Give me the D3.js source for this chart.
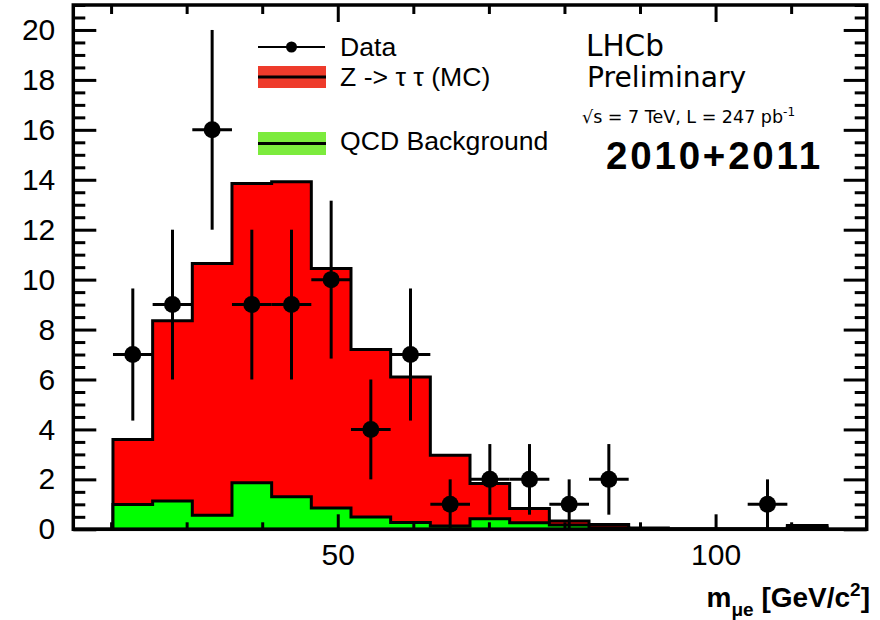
<!DOCTYPE html>
<html><head><meta charset="utf-8">
<script src="https://cdn.jsdelivr.net/npm/d3@7"></script>
<style>body{margin:0;background:#fff} svg{display:block}</style>
</head><body><svg id="c" width="880" height="620"></svg>
<script>
// ---- data ----
const binEdges = [15, 20.25, 25.5, 30.75, 36, 41.25, 46.5, 51.75, 57, 62.25, 67.5, 72.75, 78, 83.25, 88.5, 93.75, 99, 104.25, 109.5, 114.75, 120];
const dataCounts = [0, 7, 9, 16, 9, 9, 10, 4, 7, 1, 2, 2, 1, 2, 0, 0, 0, 1, 0, 0];
const qcdBkg = [0, 0.99, 1.13, 0.56, 1.86, 1.30, 0.85, 0.49, 0.27, 0.13, 0.42, 0.26, 0.17, 0.06, 0.02, 0.01, 0.01, 0.01, 0.08, 0];
const zttMC  = [0, 2.61, 7.22, 10.09, 11.99, 12.62, 9.60, 6.71, 5.83, 2.84, 1.41, 0.57, 0.16, 0.13, 0.03, 0.01, 0.01, 0.01, 0.07, 0];
const xMajorTicks = [50, 100];
const xMinorTicks = [20, 30, 40, 60, 70, 80, 90, 110];
const yMajorTicks = [0, 2, 4, 6, 8, 10, 12, 14, 16, 18, 20];
const yMinorTicks = [0.5,1,1.5,2.5,3,3.5,4.5,5,5.5,6.5,7,7.5,8.5,9,9.5,10.5,11,11.5,12.5,13,13.5,14.5,15,15.5,16.5,17,17.5,18.5,19,19.5,20.5,21];
const legendLabels = ["Data", "Z -> τ τ (MC)", "QCD Background"];

// ---- layout ----
const svg = d3.select("#c");
const L = 73.3, R = 866.7, T = 5, B = 529.3;
const x = d3.scaleLinear().domain([15, 120]).range([L, R]);
const y = d3.scaleLinear().domain([0, 21]).range([B, T]);
const sansFont = "'Liberation Sans', Arial, sans-serif";
const dejaFont = "'DejaVu Sans', sans-serif";

function stepPoints(vals) {
  const pts = [[binEdges[0], 0]];
  vals.forEach((v, i) => { pts.push([binEdges[i], v]); pts.push([binEdges[i + 1], v]); });
  pts.push([binEdges[binEdges.length - 1], 0]);
  return pts;
}
const line = d3.line().x(d => x(d[0])).y(d => y(d[1]));

const total = zttMC.map((v, i) => v + qcdBkg[i]);
svg.append("path").attr("d", line(stepPoints(total)) + "Z")
  .attr("fill", "#ff0000").attr("stroke", "#000").attr("stroke-width", 3).attr("stroke-linejoin", "miter");
svg.append("path").attr("d", line(stepPoints(qcdBkg)) + "Z")
  .attr("fill", "#00ff00").attr("stroke", "#000").attr("stroke-width", 3).attr("stroke-linejoin", "miter");

// ---- axes ----
function styleAxis(g) {
  g.select(".domain").remove();
  g.selectAll(".tick line").attr("stroke", "#000").attr("stroke-width", 3);
}
svg.append("g").attr("transform", `translate(${L},0)`)
  .call(d3.axisLeft(y).tickValues(yMajorTicks).tickSize(-23).tickPadding(18).tickFormat(d3.format("d")))
  .call(styleAxis)
  .call(g => g.selectAll("text").attr("font-family", sansFont).attr("font-size", 30).attr("fill", "#000"));
svg.append("g").attr("transform", `translate(${L},0)`)
  .call(d3.axisLeft(y).tickValues(yMinorTicks).tickSize(-12).tickFormat(""))
  .call(styleAxis);
svg.append("g").attr("transform", `translate(${R},0)`)
  .call(d3.axisRight(y).tickValues(yMajorTicks).tickSize(-23).tickFormat(""))
  .call(styleAxis);
svg.append("g").attr("transform", `translate(${R},0)`)
  .call(d3.axisRight(y).tickValues(yMinorTicks).tickSize(-12).tickFormat(""))
  .call(styleAxis);
svg.append("g").attr("transform", `translate(0,${B})`)
  .call(d3.axisBottom(x).tickValues(xMajorTicks).tickSize(-15).tickPadding(14).tickFormat(d3.format("d")))
  .call(styleAxis)
  .call(g => g.selectAll("text").attr("font-family", sansFont).attr("font-size", 30).attr("fill", "#000"));
svg.append("g").attr("transform", `translate(0,${B})`)
  .call(d3.axisBottom(x).tickValues(xMinorTicks).tickSize(-7).tickFormat(""))
  .call(styleAxis);
svg.append("g").attr("transform", `translate(0,${T})`)
  .call(d3.axisTop(x).tickValues(xMajorTicks).tickSize(-17).tickFormat(""))
  .call(styleAxis);
svg.append("g").attr("transform", `translate(0,${T})`)
  .call(d3.axisTop(x).tickValues(xMinorTicks).tickSize(-9).tickFormat(""))
  .call(styleAxis);

svg.append("rect").attr("x", L).attr("y", T).attr("width", R - L).attr("height", B - T)
  .attr("fill", "none").attr("stroke", "#000").attr("stroke-width", 3.5);

// ---- data points ----
const pts = dataCounts.map((n, i) => ({ lo: binEdges[i], hi: binEdges[i + 1], n })).filter(d => d.n > 0);
const dg = svg.append("g");
pts.forEach(d => {
  const cx = x((d.lo + d.hi) / 2), e = Math.sqrt(d.n);
  dg.append("line").attr("x1", cx).attr("x2", cx).attr("y1", y(d.n - e)).attr("y2", y(d.n + e))
    .attr("stroke", "#000").attr("stroke-width", 3);
  dg.append("line").attr("x1", x(d.lo)).attr("x2", x(d.hi)).attr("y1", y(d.n)).attr("y2", y(d.n))
    .attr("stroke", "#000").attr("stroke-width", 3);
  dg.append("circle").attr("cx", cx).attr("cy", y(d.n)).attr("r", 8.5).attr("fill", "#000");
});

// ---- legend ----
const lg = svg.append("g");
lg.append("line").attr("x1", 258).attr("x2", 325).attr("y1", 47).attr("y2", 47).attr("stroke", "#000").attr("stroke-width", 2);
lg.append("circle").attr("cx", 291.5).attr("cy", 47).attr("r", 5.5).attr("fill", "#000");
lg.append("rect").attr("x", 258).attr("y", 66).attr("width", 68).attr("height", 22).attr("fill", "#ee3b2b");
lg.append("line").attr("x1", 258).attr("x2", 326).attr("y1", 77).attr("y2", 77).attr("stroke", "#000").attr("stroke-width", 3);
lg.append("rect").attr("x", 258).attr("y", 132).attr("width", 68).attr("height", 23).attr("fill", "#7ceb3d");
lg.append("line").attr("x1", 258).attr("x2", 326).attr("y1", 143.5).attr("y2", 143.5).attr("stroke", "#000").attr("stroke-width", 3);
[56, 86, 150].forEach((yy, i) => {
  lg.append("text").attr("x", 340).attr("y", yy).text(legendLabels[i])
    .attr("font-family", sansFont).attr("font-size", 26.6).attr("fill", "#000");
});

// ---- labels ----
svg.append("text").attr("x", 586).attr("y", 56).text("LHCb")
  .attr("font-family", dejaFont).attr("font-size", 29.5).attr("fill", "#000");
svg.append("text").attr("x", 587).attr("y", 87).text("Preliminary")
  .attr("font-family", dejaFont).attr("font-size", 28.2).attr("fill", "#000");
const lum = svg.append("text").attr("x", 582).attr("y", 123)
  .attr("font-family", dejaFont).attr("font-size", 17.5).attr("fill", "#000");
lum.append("tspan").text("√s = 7 TeV, L = 247 pb");
lum.append("tspan").attr("dy", -7).attr("font-size", 12).text("-1");
svg.append("text").attr("x", 606).attr("y", 169).text("2010+2011")
  .attr("font-family", sansFont).attr("font-weight", "bold").attr("font-size", 38.5)
  .attr("letter-spacing", 2.8).attr("fill", "#000");

const xt = svg.append("text").attr("x", 870).attr("y", 607).attr("text-anchor", "end")
  .attr("font-family", sansFont).attr("font-weight", "bold").attr("font-size", 28).attr("fill", "#000");
xt.append("tspan").text("m");
xt.append("tspan").attr("dy", 9).attr("font-size", 19).text("μe");
xt.append("tspan").attr("dy", -9).text(" [GeV/c");
xt.append("tspan").attr("dy", -11).attr("font-size", 19).text("2");
xt.append("tspan").attr("dy", 11).text("]");
</script>
</body></html>
